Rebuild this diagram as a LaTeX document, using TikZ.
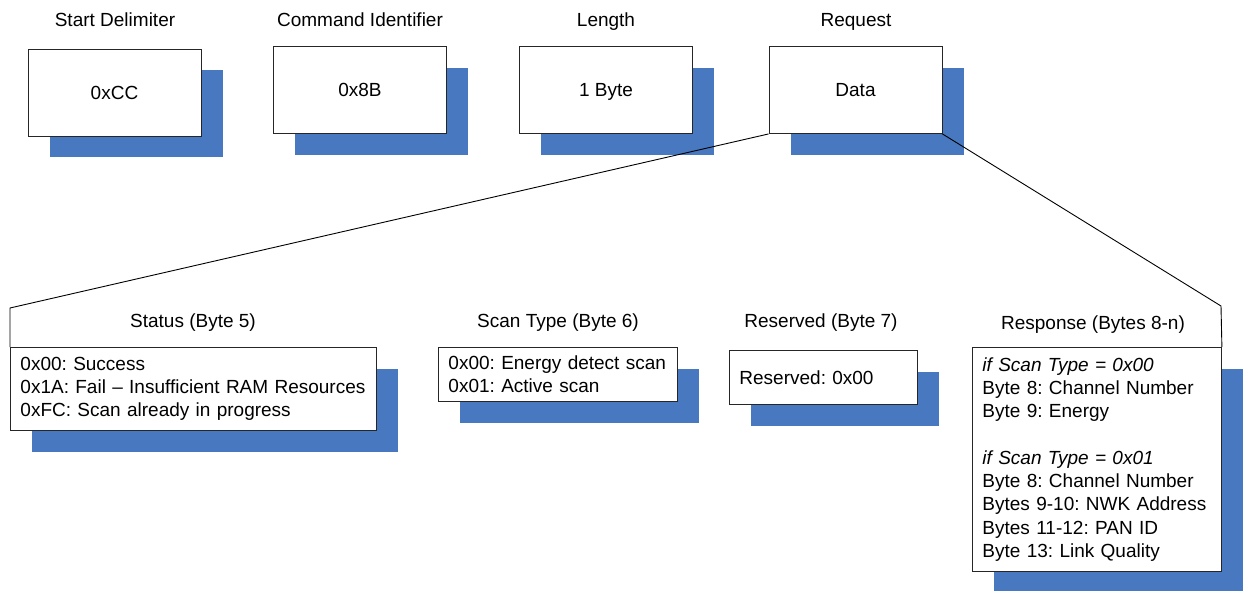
\documentclass[tikz,border=0pt]{standalone}
\usepackage{fontspec}
\setmainfont{Liberation Sans}
\usetikzlibrary{shadows}
\definecolor{shadowblue}{RGB}{72,120,191}
\begin{document}
\frenchspacing
\begin{tikzpicture}[x=1pt,y=-1pt,
    every node/.style={font=\fontsize{19}{23.3}\selectfont},
    head/.style={anchor=base},
    box/.style={draw=black!85,line width=0.9pt,fill=white,inner sep=0pt,
      drop shadow={shadow xshift=21.5pt,shadow yshift=-21.5pt,fill=shadowblue,opacity=1}},
    field/.style={box,minimum width=173pt,minimum height=87pt,text height=13.6pt,text depth=0pt},
    list/.style={box,anchor=north west,align=left,inner xsep=10pt}]
    \useasboundingbox (0,0) rectangle (1243,591);
            \node [head](ta) at (115,27) {Start Delimiter};
            \node [head](tb) at (360,27) {Command Identifier};
            \node [head](tc) at (606,27) {Length};
            \node [head](td) at (856,27) {Request};
            \node [field](a) at (114.5,92.5) {0xCC};
            \node [field](b) at (360,90) {0x8B};
            \node [field](c) at (606,90) {1 Byte};
            \node [field](d) at (855.5,90) {Data};
            \node [head](te) at (193,327) {Status (Byte 5)};
            \node [head](tf) at (558,327) {Scan Type (Byte 6)};
            \node [head](tg) at (821,327) {Reserved (Byte 7)};
            \node [head](th) at (1093,329) {Response (Bytes 8-n)};
            \node [list,text width=346pt,minimum height=83pt](e) at (10,347)
              {0x00: Success\\0x1A: Fail – Insufficient RAM Resources\\0xFC: Scan already in progress};
            \node [list,text width=219pt,minimum height=54pt](f) at (438,347)
              {0x00: Energy detect scan\\0x01: Active scan};
            \node [list,text width=168pt,minimum height=54pt](g) at (729,350)
              {Reserved: 0x00};
            \node [list,text width=229pt,minimum height=224pt](h) at (972,347)
              {\textit{if Scan Type = 0x00}\\Byte 8: Channel Number\\Byte 9: Energy\\[23.3pt]
               \textit{if Scan Type = 0x01}\\Byte 8: Channel Number\\Bytes 9-10: NWK Address\\
               Bytes 11-12: PAN ID\\Byte 13: Link Quality};
            \coordinate (p) at (10,308);
            \coordinate (q) at (1221,306);
            \draw [line width=0.9pt](d.south west)--(p)--(e.north west);
            \draw [line width=0.9pt](d.south east)--(q)--(h.north east);
        \end{tikzpicture}
\end{document}
